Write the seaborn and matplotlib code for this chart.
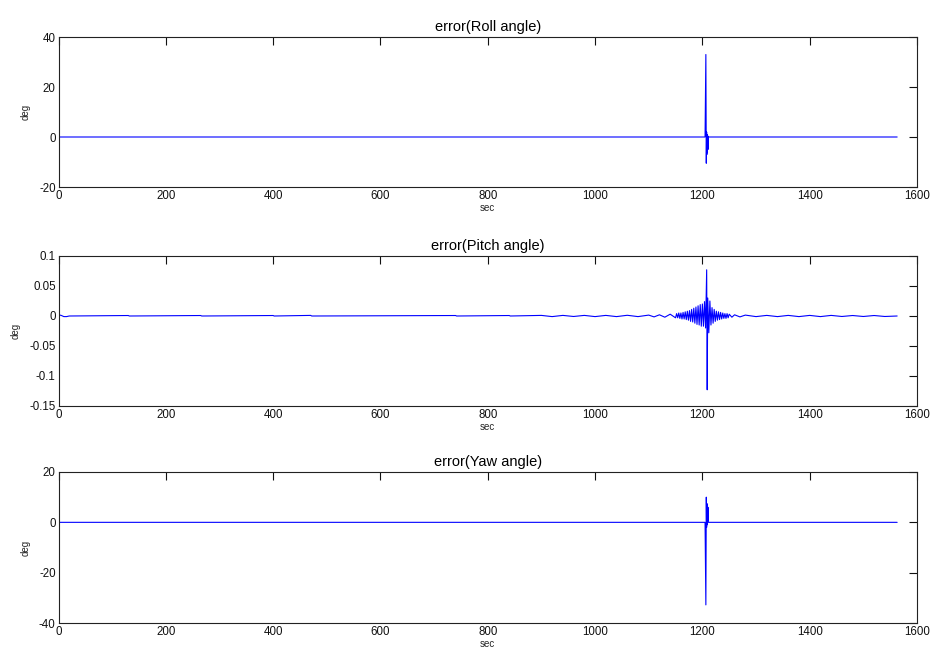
import matplotlib
matplotlib.use("Agg")
import matplotlib.pyplot as plt
import seaborn as sns
import pandas as pd

# ---------------- data ----------------
x_ticks = [0, 200, 400, 600, 800, 1000, 1200, 1400, 1600]

titles = ["error(Roll angle)", "error(Pitch angle)", "error(Yaw angle)"]

roll_t = [0, 1205, 1206.5, 1207.3, 1207.9, 1208.4, 1208.9, 1209.4, 1209.9, 1210.4, 1211, 1563]
roll_v = [0, 0, 33.0, -10.5, 2.0, -7.0, 1.0, -6.0, 0.5, -5.0, 0, 0]

yaw_t = [0, 1205, 1206.5, 1207.3, 1207.9, 1208.4, 1208.9, 1209.4, 1209.9, 1210.4, 1211, 1563]
yaw_v = [0, 0, -32.8, 10.0, -2.0, 7.5, -1.0, 7.0, 0.5, 6.0, 0, 0]

pitch_t = [0, 5, 10, 15, 20, 130, 132, 265, 267, 400, 402, 470, 472, 740, 742, 840, 842,
           900, 920, 940, 960, 980, 1000, 1020, 1040, 1060, 1080, 1100, 1110, 1120, 1130, 1140,
           1150, 1152, 1154, 1156, 1158, 1160, 1162, 1164, 1166, 1168, 1170, 1172, 1174, 1176,
           1178, 1180, 1182, 1184, 1186, 1188, 1190, 1192, 1194, 1196, 1198, 1200, 1202, 1204,
           1206, 1208, 1209, 1210, 1212, 1214, 1216, 1218, 1220, 1222, 1224, 1226, 1228, 1230,
           1232, 1234, 1236, 1238, 1240, 1242, 1244, 1246, 1248, 1250, 1255, 1260, 1270, 1280,
           1300, 1320, 1340, 1360, 1380, 1400, 1420, 1440, 1460, 1480, 1500, 1520, 1540, 1563]
pitch_v = [0.002, 0.001, -0.001, -0.001, 0.0, 0.0008, 0.0, 0.0008, 0.0, 0.0008, 0.0, 0.001, 0.0, 0.0008, 0.0, 0.0008, 0.0,
           0.001, -0.001, 0.001, -0.0008, 0.001, -0.001, 0.001, -0.001, 0.0012, -0.001, 0.0015, -0.0015, 0.002, -0.002, 0.003,
           -0.003, 0.004, -0.003, 0.005, -0.004, 0.005, -0.005, 0.006, -0.005, 0.007, -0.006, 0.008, -0.007, 0.009,
           -0.009, 0.011, -0.010, 0.013, -0.012, 0.015, -0.014, 0.017, -0.015, 0.019, -0.017, 0.020, -0.017, 0.024,
           -0.020, 0.077, -0.123, 0.030, -0.028, 0.025, -0.015, 0.014, -0.012, 0.011, -0.009, 0.008, -0.007, 0.007,
           -0.006, 0.006, -0.005, 0.005, -0.004, 0.004, -0.004, 0.004, -0.003, 0.003, -0.002, 0.002, -0.0015, 0.0015,
           -0.001, 0.001, -0.001, 0.001, -0.001, 0.001, -0.001, 0.001, -0.0008, 0.0008, -0.0008, 0.0008, -0.0008, 0.0]

y_ticks = [[-20, 0, 20, 40],
           [-0.15, -0.1, -0.05, 0, 0.05, 0.1],
           [-40, -20, 0, 20]]
y_ticklabels = [["-20", "0", "20", "40"],
                ["-0.15", "-0.1", "-0.05", "0", "0.05", "0.1"],
                ["-40", "-20", "0", "20"]]
y_limits = [(-20, 40), (-0.15, 0.1), (-40, 20)]

# ---------------- styling ----------------
sns.set_style("white")
plt.rcParams["font.family"] = ["Liberation Sans", "DejaVu Sans"]
plt.rcParams["axes.unicode_minus"] = False

fig = plt.figure(figsize=(9.33, 6.59), dpi=100)
W, H = 933.0, 659.0
left, right = 58.5, 917.0
tops_bottoms = [(37, 187), (256, 406), (472, 623)]

series = [(roll_t, roll_v), (pitch_t, pitch_v), (yaw_t, yaw_v)]

for i, ((top, bot), (t, v)) in enumerate(zip(tops_bottoms, series)):
    ax = fig.add_axes([left / W, 1 - bot / H, (right - left) / W, (bot - top) / H])
    df = pd.DataFrame({"sec": t, "deg": v})
    sns.lineplot(data=df, x="sec", y="deg", ax=ax, color="#0000ff", linewidth=0.8,
                 estimator=None, sort=False)
    ax.set_xlim(0, 1600)
    ax.set_ylim(*y_limits[i])
    ax.set_xticks(x_ticks)
    ax.set_xticklabels([str(x) for x in x_ticks])
    ax.set_yticks(y_ticks[i])
    ax.set_yticklabels(y_ticklabels[i])
    ax.tick_params(direction="in", top=True, right=True, length=5.5, width=0.8,
                   labelsize=8.3, colors="#111111", pad=2)
    for s in ax.spines.values():
        s.set_visible(True)
        s.set_color("#222222")
        s.set_linewidth(0.8)
    ax.set_title(titles[i], fontsize=10.5, pad=4, color="#000000")
    ax.set_xlabel("sec", fontsize=7, labelpad=1)
    ax.set_ylabel("deg", fontsize=7, labelpad=6)

fig.savefig("out.png", dpi=100)
